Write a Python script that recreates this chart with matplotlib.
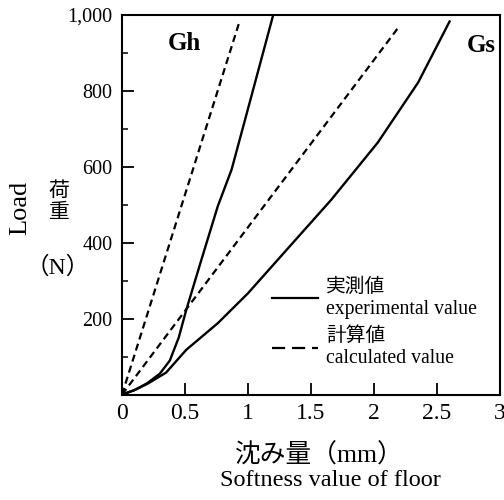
import matplotlib.pyplot as plt
from matplotlib.lines import Line2D
from matplotlib.ticker import MultipleLocator, FuncFormatter

# curves: softness (mm) vs load (N)
gh_exp_x = [0, 0.1, 0.2, 0.3, 0.38, 0.45, 0.51, 0.63, 0.76, 0.87, 1.03, 1.2]
gh_exp_y = [0, 12, 30, 55, 90, 150, 223, 355, 496, 593, 790, 1000]
gh_calc_x = [0, 0.93]
gh_calc_y = [0, 980]

gs_exp_x = [0, 0.1, 0.2, 0.35, 0.51, 0.76, 1.0, 1.26, 1.66, 2.03, 2.35, 2.6]
gs_exp_y = [0, 12, 28, 58, 118, 188, 267, 364, 513, 664, 822, 983]
gs_calc_x = [0, 2.2]
gs_calc_y = [0, 970]

x_ticks = [0, 0.5, 1, 1.5, 2, 2.5, 3]
x_tick_labels = ['0', '0.5', '1', '1.5', '2', '2.5', '3']
y_ticks = [200, 400, 600, 800, 1000]

plt.rcParams['font.family'] = ['Liberation Serif', 'Noto Sans CJK JP']

fig = plt.figure(figsize=(5.04, 5.0), dpi=100)
ax = fig.add_axes([122/504, 1 - 394.6/500, 378/504, 379.6/500])

dash = (0, (3.2, 2.0))
ax.plot(gh_exp_x, gh_exp_y, color='black', lw=1.7)
ax.plot(gh_calc_x, gh_calc_y, color='black', lw=1.6, linestyle=dash)
ax.plot(gs_exp_x, gs_exp_y, color='black', lw=1.7)
ax.plot(gs_calc_x, gs_calc_y, color='black', lw=1.6, linestyle=dash)

ax.set_xlim(0, 2.99)
ax.set_ylim(0, 1000)
ax.set_xticks(x_ticks)
ax.set_xticklabels(x_tick_labels)
ax.set_yticks(y_ticks)
ax.yaxis.set_major_formatter(FuncFormatter(lambda v, p: '{:,}'.format(int(v))))
ax.yaxis.set_minor_locator(MultipleLocator(100))
ax.tick_params(axis='both', which='major', direction='in', length=8.5, width=1.3)
ax.tick_params(axis='x', pad=6, labelsize=17)
ax.tick_params(axis='y', pad=7, labelsize=14.5)
ax.tick_params(axis='y', which='minor', direction='in', length=4.5, width=1.1)
for s in ax.spines.values():
    s.set_linewidth(1.5)

ax.text(0.165, 0.925, 'Gh', transform=ax.transAxes, fontsize=18, fontweight='bold',
        ha='center', va='center')
ax.text(0.95, 0.92, 'Gs', transform=ax.transAxes, fontsize=18, fontweight='bold',
        ha='center', va='center')

handles = [Line2D([], [], color='black', lw=1.6),
           Line2D([], [], color='black', lw=1.6, linestyle=(0, (5.9, 3.1)))]
labels = ['実測値\nexperimental value', '計算値\ncalculated value']
ax.legend(handles, labels, loc='upper left', bbox_to_anchor=(272/504, 1 - 278/500),
          bbox_transform=fig.transFigure, frameon=False, fontsize=14.2,
          handlelength=2.35, handletextpad=0.41, borderpad=0, borderaxespad=0,
          labelspacing=0.42)

# axis titles
fig.text(20/504, 1 - 208/500, 'Load', rotation=90, fontsize=19, ha='center', va='center')
fig.text(59/504, 1 - 203/500, '荷\n重', fontsize=15, ha='center', va='center',
         linespacing=1.15)
fig.text(58/504, 1 - 267/500, '（N）', fontsize=17, ha='center', va='center')
fig.text(319/504, 1 - 455/500, '沈み量（mm）', fontsize=18.5, ha='center', va='center')
fig.text(330/504, 1 - 481/500, 'Softness value of floor', fontsize=17.5,
         ha='center', va='center')

fig.savefig('out.png', dpi=100)
